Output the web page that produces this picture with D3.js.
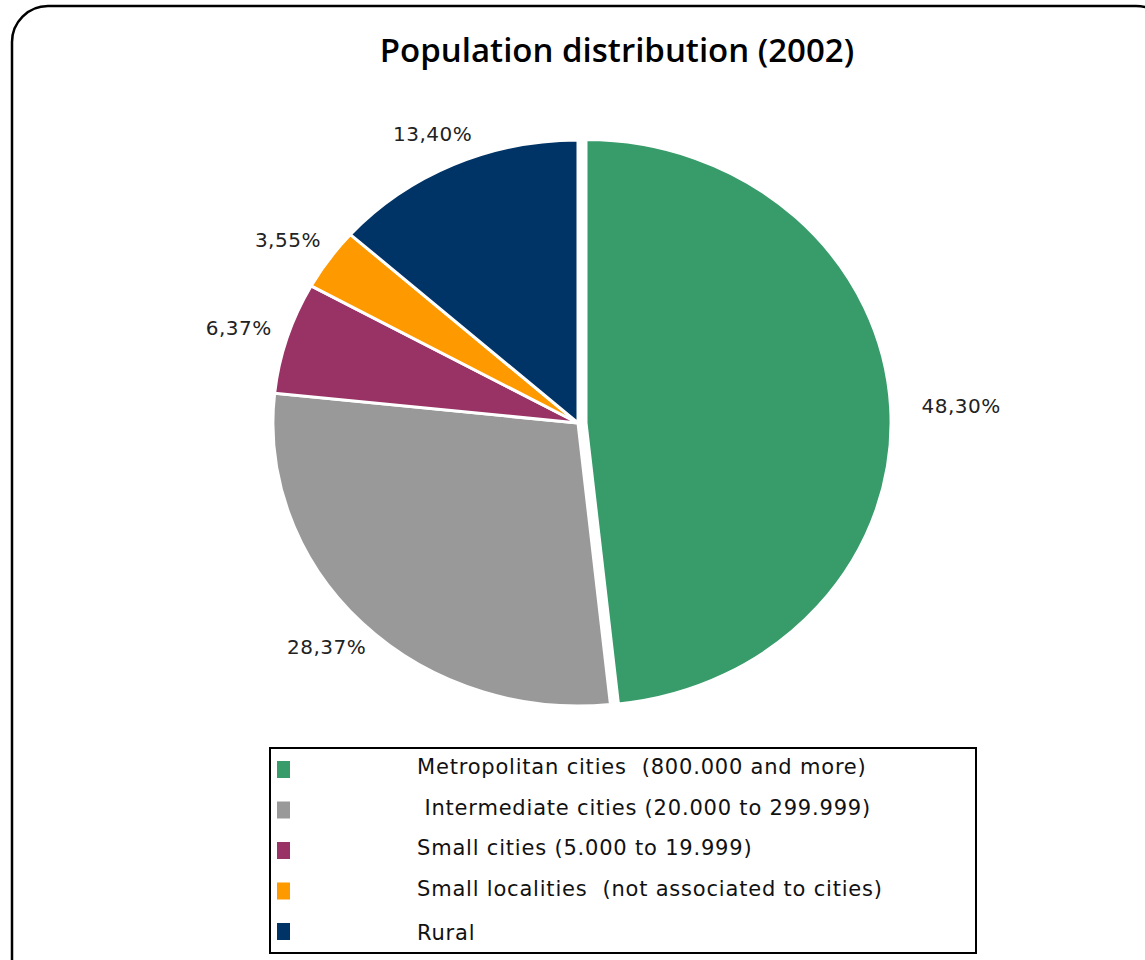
<!DOCTYPE html>
<html>
<head>
<meta charset="utf-8">
<script src="https://cdn.jsdelivr.net/npm/d3@7"></script>
<style>
  body { margin: 0; background: #fff; }
  svg { display: block; }
</style>
</head>
<body>
<div id="chart"></div>
<script>
// data
var categories = [
  "Metropolitan cities  (800.000 and more)",
  " Intermediate cities (20.000 to 299.999)",
  "Small cities (5.000 to 19.999)",
  "Small localities  (not associated to cities)",
  "Rural"
];
var values = [48.30, 28.37, 6.37, 3.55, 13.40];
var valueLabels = ["48,30%", "28,37%", "6,37%", "3,55%", "13,40%"];
var colors = ["#379b6a", "#999999", "#993366", "#ff9900", "#003366"];
var exploded = [true, false, false, false, false];

var width = 1145, height = 960;
var bodyFont = "'DejaVu Sans', 'Noto Sans', sans-serif";

var svg = d3.select("#chart")
  .append("svg")
    .attr("width", width)
    .attr("height", height);

// outer rounded frame
svg.append("rect")
  .attr("x", 12)
  .attr("y", 6)
  .attr("width", 1160)
  .attr("height", 990)
  .attr("rx", 36)
  .attr("fill", "#fff")
  .attr("stroke", "#000")
  .attr("stroke-width", 2.5);

// title
svg.append("text")
  .attr("x", 617)
  .attr("y", 62)
  .attr("text-anchor", "middle")
  .style("font-family", "'Open Sans', 'Noto Sans', sans-serif")
  .style("font-weight", 600)
  .style("font-size", "33px")
  .text("Population distribution (2002)");

// pie (the original is slightly stretched horizontally)
var cx = 578, cy = 423, r = 283, sx = 1.078, explode = 8;
var pie = d3.pie().sort(null).value(function(d) { return d; });
var arcs = pie(values);
var arc = d3.arc().innerRadius(0).outerRadius(r);
function mid(d) { return (d.startAngle + d.endAngle) / 2; }

var pieG = svg.append("g")
  .attr("transform", "translate(" + cx + "," + cy + ")");

var sliceG = pieG.append("g")
  .attr("transform", "scale(" + sx + ",1)");

sliceG.selectAll("path")
  .data(arcs)
  .enter()
  .append("path")
    .attr("d", arc)
    .attr("fill", function(d, i) { return colors[i]; })
    .attr("stroke", "#fff")
    .attr("stroke-width", 3)
    .attr("vector-effect", "non-scaling-stroke")
    .attr("transform", function(d, i) {
      if (!exploded[i]) return null;
      var a = mid(d);
      return "translate(" + (Math.sin(a) * explode / sx) + "," + (-Math.cos(a) * explode) + ")";
    });

// value labels
var labelR = 330;
pieG.selectAll("text.val")
  .data(arcs)
  .enter()
  .append("text")
    .attr("class", "val")
    .attr("x", function(d, i) {
      var a = mid(d), extra = exploded[i] ? explode + 20 : 0;
      return Math.sin(a) * (labelR * sx + extra);
    })
    .attr("y", function(d) { return -Math.cos(mid(d)) * labelR * 0.96; })
    .attr("dy", "0.35em")
    .attr("text-anchor", "middle")
    .style("font-family", bodyFont)
    .style("font-size", "20px")
    .style("letter-spacing", "0.5px")
    .style("fill", "#222")
    .text(function(d, i) { return valueLabels[i]; });

// legend
var legend = svg.append("g");
legend.append("rect")
  .attr("x", 270)
  .attr("y", 748)
  .attr("width", 706)
  .attr("height", 205)
  .attr("fill", "#fff")
  .attr("stroke", "#000")
  .attr("stroke-width", 2);

var rowY = d3.scalePoint()
  .domain(d3.range(categories.length))
  .range([769, 931]);

var rows = legend.selectAll("g.row")
  .data(categories)
  .enter()
  .append("g")
    .attr("class", "row")
    .attr("transform", function(d, i) { return "translate(0," + rowY(i) + ")"; });

rows.append("rect")
  .attr("x", 277)
  .attr("y", -8)
  .attr("width", 13)
  .attr("height", 17)
  .attr("fill", function(d, i) { return colors[i]; });

rows.append("text")
  .attr("x", 417)
  .attr("y", function(d, i) { return i === categories.length - 1 ? 2 : -2; })
  .attr("dy", "0.35em")
  .style("font-family", bodyFont)
  .style("font-size", "21px")
  .style("letter-spacing", "0.8px")
  .style("fill", "#111")
  .style("white-space", "pre")
  .text(function(d) { return d; });
</script>
</body>
</html>
